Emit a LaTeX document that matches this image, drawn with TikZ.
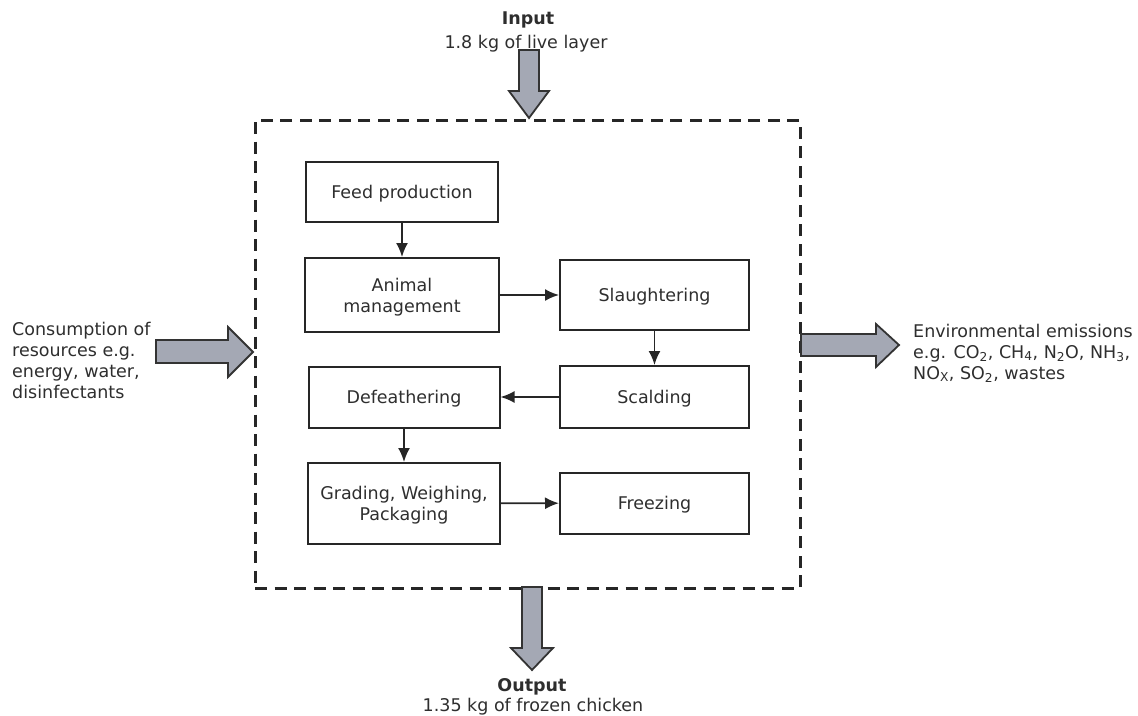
\documentclass[tikz,border=0pt]{standalone}
\usepackage{fontspec}
\setmainfont{DejaVu Sans}
\usepackage{tikz}
\usetikzlibrary{arrows.meta}
\usepackage{xcolor}
\definecolor{inkgray}{HTML}{2E2E2E}
\definecolor{arrfill}{HTML}{A4A8B4}

\begin{document}
\begin{tikzpicture}[x=1pt, y=-1pt,
    every node/.style={text=inkgray, font=\fontsize{17.5}{21}\selectfont},
    proc/.style={draw=black!85, line width=2pt, align=center, inner sep=0pt, text depth=0pt},
    flow/.style={draw=black!85, line width=1.8pt, -{Latex[length=14pt,width=12pt]}},
    blk/.style={draw=black!80, line width=1.8pt, fill=arrfill, line join=miter}]
                \useasboundingbox (0,0) rectangle (1138,715);
                \node[draw=black!85, line width=3pt, dash pattern=on 12pt off 7.5pt, minimum width=545pt, minimum height=468pt](sys) at (527.5,354){};
                \node[proc, minimum width=192pt, minimum height=60pt](fp) at (402,192){Feed production};
                \node[proc, minimum width=194pt, minimum height=74pt](am) at (402,295){Animal\\management};
                \node[proc, minimum width=189pt, minimum height=70pt](sl) at (654.5,295){Slaughtering};
                \node[proc, minimum width=189pt, minimum height=62pt](sc) at (654.5,397){Scalding};
                \node[proc, minimum width=191pt, minimum height=61pt](df) at (404,397){Defeathering};
                \node[proc, minimum width=192pt, minimum height=81pt](gw) at (404,503.5){Grading, Weighing,\\Packaging};
                \node[proc, minimum width=189pt, minimum height=61pt](fr) at (654.5,503){Freezing};
                \draw[flow] (fp) -- (am);
                \draw[flow] (am) -- (sl);
                \draw[flow] (sl) -- (sc);
                \draw[flow] (sc) -- (df);
                \draw[flow] (df) -- (gw);
                \draw[flow] (gw) -- (fr);
                % input / output labels
                \node[anchor=base, font=\fontsize{17.5}{21}\selectfont\bfseries](inlbl) at (528,24){Input};
                \node[anchor=base](inval) at (526,48){1.8 kg of live layer};
                \node[anchor=base, font=\fontsize{17.5}{21}\selectfont\bfseries](outlbl) at (532,691){Output};
                \node[anchor=base](outval) at (533,711){1.35 kg of frozen chicken};
                \node[anchor=north west, align=left, inner sep=0pt](res) at (12,322){Consumption of\\resources e.g.\\energy, water,\\disinfectants};
                \node[anchor=north west, align=left, inner sep=0pt](emi) at (913,323.5){Environmental emissions\\e.g. CO\textsubscript{2}, CH\textsubscript{4}, N\textsubscript{2}O, NH\textsubscript{3},\\NO\textsubscript{X}, SO\textsubscript{2}, wastes};
                % block arrows
                \coordinate (inTip) at (529,118);
                \coordinate (outTop) at (522,587);
                \coordinate (resTip) at (253,352);
                \coordinate (emiBase) at (801,345);
                \draw[blk] (inTip) -- ++(20,-27) -- ++(-10,0) -- ++(0,-41) -- ++(-20,0) -- ++(0,41) -- ++(-10,0) -- cycle;
                \draw[blk] (outTop) -- ++(20,0) -- ++(0,61) -- ++(11,0) -- ++(-21,22) -- ++(-21,-22) -- ++(11,0) -- cycle;
                \draw[blk] (resTip) -- ++(-25,-25) -- ++(0,13) -- ++(-72,0) -- ++(0,23) -- ++(72,0) -- ++(0,14) -- cycle;
                \draw[blk] (emiBase) -- ++(0,-11) -- ++(75,0) -- ++(0,-10) -- ++(23,21) -- ++(-23,22) -- ++(0,-11) -- ++(-75,0) -- cycle;
\end{tikzpicture}
\end{document}
